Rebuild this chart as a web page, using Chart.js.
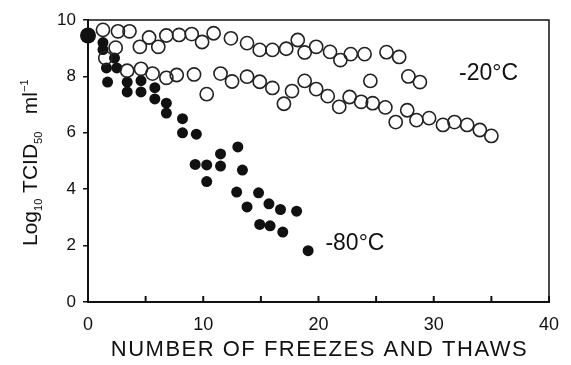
<!DOCTYPE html>
<html>
<head>
<meta charset="utf-8">
<script src="https://cdn.jsdelivr.net/npm/chart.js@4"></script>
<style>
  html, body { margin: 0; padding: 0; background: #fff; }
  #chart { display: block; }
</style>
</head>
<body>
<canvas id="chart" width="571" height="365"></canvas>
<script>
// -80°C (filled dots)
const coldX = [0, 1.3, 1.3, 2.3, 1.6, 2.5, 1.7, 3.4, 3.4, 4.6, 4.6, 5.8, 5.8, 6.8, 6.8, 8.2, 8.2, 9.4, 9.3, 10.3, 10.3, 11.5, 11.5, 13.0, 13.4, 12.9, 13.8, 14.8, 14.9, 15.7, 15.8, 16.7, 16.9, 18.1, 19.1];
const coldY = [9.45, 9.2, 8.95, 8.65, 8.3, 8.3, 7.8, 7.8, 7.45, 7.85, 7.45, 7.6, 7.2, 7.05, 6.7, 6.5, 6.0, 5.95, 4.88, 4.86, 4.27, 5.25, 4.82, 5.5, 4.68, 3.9, 3.37, 3.87, 2.75, 3.48, 2.7, 3.28, 2.48, 3.22, 1.82];

// -20°C, upper run (open circles)
const warmAX = [1.3, 2.6, 3.6, 2.4, 4.5, 5.3, 6.1, 6.8, 7.9, 9.0, 9.9, 10.9, 12.4, 13.8, 14.9, 16.0, 17.2, 18.2, 18.8, 19.8, 21.0, 21.9, 22.8, 24.0, 25.9, 27.0, 27.8, 28.8];
const warmAY = [9.65, 9.6, 9.6, 9.02, 9.05, 9.38, 9.05, 9.45, 9.47, 9.5, 9.22, 9.53, 9.35, 9.18, 8.94, 8.94, 8.98, 9.29, 8.85, 9.05, 8.87, 8.58, 8.79, 8.79, 8.86, 8.69, 8.0, 7.8];

// -20°C, lower run (open circles)
const warmBX = [1.5, 3.4, 4.6, 5.6, 6.8, 7.7, 9.2, 10.3, 11.5, 12.5, 13.8, 14.9, 16.0, 17.0, 17.7, 18.8, 19.8, 20.8, 21.8, 22.7, 23.7, 24.5, 24.7, 25.8, 26.7, 27.7, 28.5, 29.6, 30.8, 31.8, 32.9, 34.0, 35.0];
const warmBY = [8.65, 8.2, 8.27, 8.1, 7.95, 8.05, 8.07, 7.37, 8.1, 7.82, 7.99, 7.81, 7.59, 7.03, 7.48, 7.84, 7.55, 7.3, 6.92, 7.27, 7.1, 7.84, 7.05, 6.9, 6.38, 6.8, 6.45, 6.52, 6.28, 6.38, 6.28, 6.1, 5.89];

const xTicks = [0, 10, 20, 30, 40];
const yTicks = [0, 2, 4, 6, 8, 10];

const ink = "#111";
const fontFamily = "'Liberation Sans', Arial, sans-serif";

function pts(xs, ys) {
  return xs.map((x, i) => ({ x: x, y: ys[i] }));
}

const extras = {
  id: "extras",
  afterDraw(chart) {
    const { ctx, chartArea: a, scales } = chart;
    const sx = scales.x, sy = scales.y;
    ctx.save();
    ctx.strokeStyle = ink;

    // frame top and right
    ctx.lineWidth = 1.5;
    ctx.beginPath();
    ctx.moveTo(a.left, a.top);
    ctx.lineTo(a.right, a.top);
    ctx.lineTo(a.right, a.bottom);
    ctx.stroke();

    // inward x ticks every 5
    ctx.lineWidth = 2;
    for (let v = 0; v <= 40; v += 5) {
      const px = sx.getPixelForValue(v);
      ctx.beginPath();
      ctx.moveTo(px, a.bottom + 1);
      ctx.lineTo(px, a.bottom - 6);
      ctx.stroke();
    }

    // x axis title, a bit spaced out
    ctx.fillStyle = ink;
    ctx.font = "22px " + fontFamily;
    ctx.letterSpacing = "1.5px";
    ctx.textAlign = "center";
    ctx.textBaseline = "middle";
    ctx.fillText("NUMBER OF FREEZES AND THAWS", (a.left + a.right) / 2 + 1, 350);
    ctx.letterSpacing = "0px";

    // y axis title with subscripts
    ctx.translate(30, 246);
    ctx.rotate(-Math.PI / 2);
    ctx.textBaseline = "alphabetic";
    ctx.textAlign = "left";
    const parts = [
      ["Log", 21, 0],
      ["10", 11, 5],
      [" TCID", 21, 0],
      ["50", 11, 5],
      ["   ml", 21, 0],
      ["−1", 11, -9],
    ];
    let cx = 0;
    for (const [t, size, dy] of parts) {
      ctx.font = size + "px " + fontFamily;
      ctx.fillText(t, cx, 7 + dy);
      cx += ctx.measureText(t).width;
    }
    ctx.restore();

    // curve labels
    ctx.save();
    ctx.fillStyle = ink;
    ctx.font = "23px " + fontFamily;
    ctx.textBaseline = "middle";
    ctx.textAlign = "left";
    ctx.fillText("-20°C", sx.getPixelForValue(32.2), sy.getPixelForValue(8.08));
    ctx.fillText("-80°C", sx.getPixelForValue(20.6), sy.getPixelForValue(2.08));
    ctx.restore();
  },
};

new Chart(document.getElementById("chart"), {
  type: "scatter",
  data: {
    datasets: [
      {
        label: "-20°C a",
        data: pts(warmAX, warmAY),
        pointStyle: "circle",
        pointRadius: 6.6,
        pointBorderWidth: 1.6,
        borderColor: "#222",
        backgroundColor: "rgba(0,0,0,0)",
        clip: false,
      },
      {
        label: "-20°C b",
        data: pts(warmBX, warmBY),
        pointStyle: "circle",
        pointRadius: 6.6,
        pointBorderWidth: 1.6,
        borderColor: "#222",
        backgroundColor: "rgba(0,0,0,0)",
        clip: false,
      },
      {
        label: "-80°C",
        data: pts(coldX, coldY),
        pointStyle: "circle",
        pointRadius: (c) => (c.raw && c.raw.x === 0 ? 8 : 5.5),
        pointBorderWidth: 0,
        borderColor: ink,
        backgroundColor: ink,
        clip: false,
      },
    ],
  },
  options: {
    responsive: false,
    animation: false,
    events: [],
    layout: { padding: { left: 0, top: 20, right: 18, bottom: 0 } },
    plugins: {
      legend: { display: false },
      tooltip: { enabled: false },
    },
    scales: {
      x: {
        type: "linear",
        min: 0,
        max: 40,
        afterFit: (s) => { s.height = 63; },
        afterBuildTicks: (s) => { s.ticks = xTicks.map((v) => ({ value: v })); },
        border: { display: true, color: ink, width: 2 },
        grid: { display: false, drawTicks: false },
        ticks: {
          color: ink,
          padding: 12,
          maxRotation: 0,
          font: { family: fontFamily, size: 18 },
        },
      },
      y: {
        type: "linear",
        min: 0,
        max: 10,
        afterFit: (s) => { s.width = 88; },
        afterBuildTicks: (s) => { s.ticks = yTicks.map((v) => ({ value: v })); },
        border: { display: true, color: ink, width: 2 },
        grid: {
          display: true,
          drawOnChartArea: false,
          drawTicks: true,
          tickLength: 5,
          color: ink,
          lineWidth: 1.5,
        },
        ticks: {
          color: ink,
          padding: 7,
          font: { family: fontFamily, size: 17 },
        },
      },
    },
  },
  plugins: [extras],
});
</script>
</body>
</html>
